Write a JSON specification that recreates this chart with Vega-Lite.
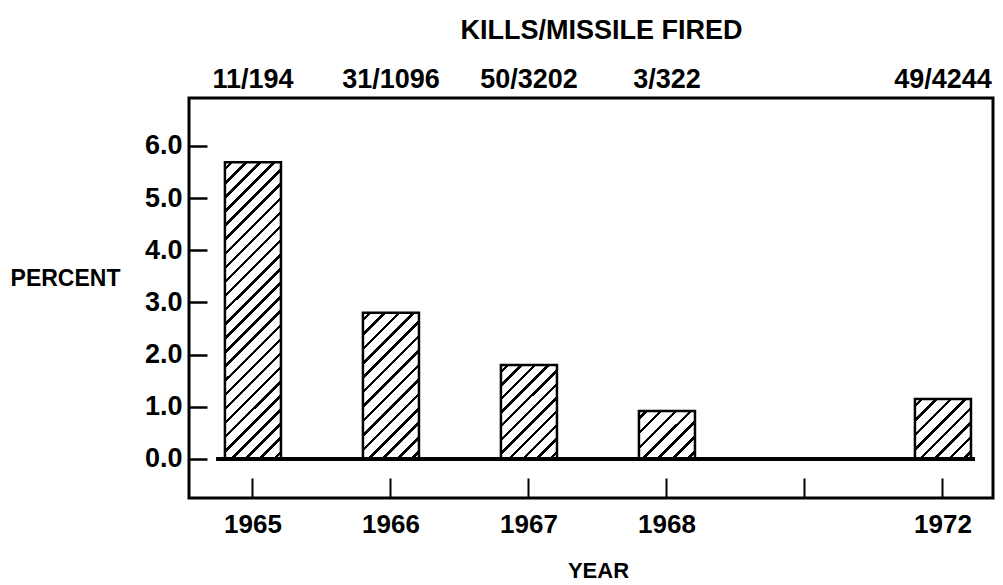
{
  "$schema": "https://vega.github.io/schema/vega-lite/v6.json",
  "width": 804,
  "height": 400,
  "autosize": {"type": "none"},
  "padding": {"left": 189, "top": 98, "right": 10, "bottom": 87},
  "background": "white",
  "data": {"values": [
    {"year": "1965", "kills": "11/194", "percent": 5.69},
    {"year": "1966", "kills": "31/1096", "percent": 2.80},
    {"year": "1967", "kills": "50/3202", "percent": 1.80},
    {"year": "1968", "kills": "3/322", "percent": 0.92},
    {"year": "1972", "kills": "49/4244", "percent": 1.15}
  ]},
  "layer": [
    {
      "layer": [
        {
          "mark": {"type": "bar", "stroke": "black", "strokeWidth": 2.5},
          "encoding": {
            "x": {
              "field": "year", "type": "nominal",
              "scale": {"type": "band", "domain": ["1965", "1966", "1967", "1968", " ", "1972"], "paddingInner": 0.594, "paddingOuter": 0.21, "align": 0.62},
              "axis": {"orient": "bottom", "domain": false, "grid": false, "tickSize": -20, "tickWidth": 2, "tickColor": "black", "labelAngle": 0, "labelBaseline": "alphabetic", "labelPadding": 54, "labelFontSize": 26, "title": "YEAR", "titleFontSize": 22, "titleX": 409, "titleY": 72, "titleBaseline": "middle", "titleAlign": "center"}
            },
            "y": {
              "field": "percent", "type": "quantitative",
              "scale": {"domain": [-0.75, 6.92], "nice": false, "zero": false},
              "axis": {"orient": "left", "values": [0, 1, 2, 3, 4, 5, 6], "format": ".1f", "domain": false, "grid": false, "tickSize": -18, "tickWidth": 2.5, "tickColor": "black", "labelPadding": 25, "labelFontSize": 27, "title": "PERCENT", "titleFontSize": 23, "titleAngle": 0, "titleX": -124, "titleY": 180, "titleAlign": "center", "titleBaseline": "middle"}
            },
            "y2": {"datum": 0},
            "fill": {
              "condition": [
                {"test": "datum.year === '1965'", "value": {"gradient": "linear", "x1": 0, "y1": 0, "x2": 0.2164, "y2": 1.1478, "stops": [
                  {"offset": 0.015, "color": "white"}, {"offset": 0.015, "color": "black"}, {"offset": 0.025, "color": "black"}, {"offset": 0.025, "color": "white"},
                  {"offset": 0.055, "color": "white"}, {"offset": 0.055, "color": "black"}, {"offset": 0.065, "color": "black"}, {"offset": 0.065, "color": "white"},
                  {"offset": 0.095, "color": "white"}, {"offset": 0.095, "color": "black"}, {"offset": 0.105, "color": "black"}, {"offset": 0.105, "color": "white"},
                  {"offset": 0.135, "color": "white"}, {"offset": 0.135, "color": "black"}, {"offset": 0.145, "color": "black"}, {"offset": 0.145, "color": "white"},
                  {"offset": 0.175, "color": "white"}, {"offset": 0.175, "color": "black"}, {"offset": 0.185, "color": "black"}, {"offset": 0.185, "color": "white"},
                  {"offset": 0.215, "color": "white"}, {"offset": 0.215, "color": "black"}, {"offset": 0.225, "color": "black"}, {"offset": 0.225, "color": "white"},
                  {"offset": 0.255, "color": "white"}, {"offset": 0.255, "color": "black"}, {"offset": 0.265, "color": "black"}, {"offset": 0.265, "color": "white"},
                  {"offset": 0.295, "color": "white"}, {"offset": 0.295, "color": "black"}, {"offset": 0.305, "color": "black"}, {"offset": 0.305, "color": "white"},
                  {"offset": 0.335, "color": "white"}, {"offset": 0.335, "color": "black"}, {"offset": 0.345, "color": "black"}, {"offset": 0.345, "color": "white"},
                  {"offset": 0.375, "color": "white"}, {"offset": 0.375, "color": "black"}, {"offset": 0.385, "color": "black"}, {"offset": 0.385, "color": "white"},
                  {"offset": 0.415, "color": "white"}, {"offset": 0.415, "color": "black"}, {"offset": 0.425, "color": "black"}, {"offset": 0.425, "color": "white"},
                  {"offset": 0.455, "color": "white"}, {"offset": 0.455, "color": "black"}, {"offset": 0.465, "color": "black"}, {"offset": 0.465, "color": "white"},
                  {"offset": 0.495, "color": "white"}, {"offset": 0.495, "color": "black"}, {"offset": 0.505, "color": "black"}, {"offset": 0.505, "color": "white"},
                  {"offset": 0.535, "color": "white"}, {"offset": 0.535, "color": "black"}, {"offset": 0.545, "color": "black"}, {"offset": 0.545, "color": "white"},
                  {"offset": 0.575, "color": "white"}, {"offset": 0.575, "color": "black"}, {"offset": 0.585, "color": "black"}, {"offset": 0.585, "color": "white"},
                  {"offset": 0.615, "color": "white"}, {"offset": 0.615, "color": "black"}, {"offset": 0.625, "color": "black"}, {"offset": 0.625, "color": "white"},
                  {"offset": 0.655, "color": "white"}, {"offset": 0.655, "color": "black"}, {"offset": 0.665, "color": "black"}, {"offset": 0.665, "color": "white"},
                  {"offset": 0.695, "color": "white"}, {"offset": 0.695, "color": "black"}, {"offset": 0.705, "color": "black"}, {"offset": 0.705, "color": "white"},
                  {"offset": 0.735, "color": "white"}, {"offset": 0.735, "color": "black"}, {"offset": 0.745, "color": "black"}, {"offset": 0.745, "color": "white"},
                  {"offset": 0.775, "color": "white"}, {"offset": 0.775, "color": "black"}, {"offset": 0.785, "color": "black"}, {"offset": 0.785, "color": "white"},
                  {"offset": 0.815, "color": "white"}, {"offset": 0.815, "color": "black"}, {"offset": 0.825, "color": "black"}, {"offset": 0.825, "color": "white"},
                  {"offset": 0.855, "color": "white"}, {"offset": 0.855, "color": "black"}, {"offset": 0.865, "color": "black"}, {"offset": 0.865, "color": "white"},
                  {"offset": 0.895, "color": "white"}, {"offset": 0.895, "color": "black"}, {"offset": 0.905, "color": "black"}, {"offset": 0.905, "color": "white"},
                  {"offset": 0.935, "color": "white"}, {"offset": 0.935, "color": "black"}, {"offset": 0.945, "color": "black"}, {"offset": 0.945, "color": "white"},
                  {"offset": 0.975, "color": "white"}, {"offset": 0.975, "color": "black"}, {"offset": 0.985, "color": "black"}, {"offset": 0.985, "color": "white"}
                ]}},
                {"test": "datum.year === '1966'", "value": {"gradient": "linear", "x1": 0, "y1": 0, "x2": 0.4626, "y2": 1.2061, "stops": [
                  {"offset": 0.0268, "color": "white"}, {"offset": 0.0268, "color": "black"}, {"offset": 0.0446, "color": "black"}, {"offset": 0.0446, "color": "white"},
                  {"offset": 0.0982, "color": "white"}, {"offset": 0.0982, "color": "black"}, {"offset": 0.1161, "color": "black"}, {"offset": 0.1161, "color": "white"},
                  {"offset": 0.1696, "color": "white"}, {"offset": 0.1696, "color": "black"}, {"offset": 0.1875, "color": "black"}, {"offset": 0.1875, "color": "white"},
                  {"offset": 0.2411, "color": "white"}, {"offset": 0.2411, "color": "black"}, {"offset": 0.2589, "color": "black"}, {"offset": 0.2589, "color": "white"},
                  {"offset": 0.3125, "color": "white"}, {"offset": 0.3125, "color": "black"}, {"offset": 0.3304, "color": "black"}, {"offset": 0.3304, "color": "white"},
                  {"offset": 0.3839, "color": "white"}, {"offset": 0.3839, "color": "black"}, {"offset": 0.4018, "color": "black"}, {"offset": 0.4018, "color": "white"},
                  {"offset": 0.4554, "color": "white"}, {"offset": 0.4554, "color": "black"}, {"offset": 0.4732, "color": "black"}, {"offset": 0.4732, "color": "white"},
                  {"offset": 0.5268, "color": "white"}, {"offset": 0.5268, "color": "black"}, {"offset": 0.5446, "color": "black"}, {"offset": 0.5446, "color": "white"},
                  {"offset": 0.5982, "color": "white"}, {"offset": 0.5982, "color": "black"}, {"offset": 0.6161, "color": "black"}, {"offset": 0.6161, "color": "white"},
                  {"offset": 0.6696, "color": "white"}, {"offset": 0.6696, "color": "black"}, {"offset": 0.6875, "color": "black"}, {"offset": 0.6875, "color": "white"},
                  {"offset": 0.7411, "color": "white"}, {"offset": 0.7411, "color": "black"}, {"offset": 0.7589, "color": "black"}, {"offset": 0.7589, "color": "white"},
                  {"offset": 0.8125, "color": "white"}, {"offset": 0.8125, "color": "black"}, {"offset": 0.8304, "color": "black"}, {"offset": 0.8304, "color": "white"},
                  {"offset": 0.8839, "color": "white"}, {"offset": 0.8839, "color": "black"}, {"offset": 0.9018, "color": "black"}, {"offset": 0.9018, "color": "white"},
                  {"offset": 0.9554, "color": "white"}, {"offset": 0.9554, "color": "black"}, {"offset": 0.9732, "color": "black"}, {"offset": 0.9732, "color": "white"}
                ]}},
                {"test": "datum.year === '1967'", "value": {"gradient": "linear", "x1": 0, "y1": 0, "x2": 0.7016, "y2": 1.1777, "stops": [
                  {"offset": 0.0341, "color": "white"}, {"offset": 0.0341, "color": "black"}, {"offset": 0.0568, "color": "black"}, {"offset": 0.0568, "color": "white"},
                  {"offset": 0.125, "color": "white"}, {"offset": 0.125, "color": "black"}, {"offset": 0.1477, "color": "black"}, {"offset": 0.1477, "color": "white"},
                  {"offset": 0.2159, "color": "white"}, {"offset": 0.2159, "color": "black"}, {"offset": 0.2386, "color": "black"}, {"offset": 0.2386, "color": "white"},
                  {"offset": 0.3068, "color": "white"}, {"offset": 0.3068, "color": "black"}, {"offset": 0.3295, "color": "black"}, {"offset": 0.3295, "color": "white"},
                  {"offset": 0.3977, "color": "white"}, {"offset": 0.3977, "color": "black"}, {"offset": 0.4205, "color": "black"}, {"offset": 0.4205, "color": "white"},
                  {"offset": 0.4886, "color": "white"}, {"offset": 0.4886, "color": "black"}, {"offset": 0.5114, "color": "black"}, {"offset": 0.5114, "color": "white"},
                  {"offset": 0.5795, "color": "white"}, {"offset": 0.5795, "color": "black"}, {"offset": 0.6023, "color": "black"}, {"offset": 0.6023, "color": "white"},
                  {"offset": 0.6705, "color": "white"}, {"offset": 0.6705, "color": "black"}, {"offset": 0.6932, "color": "black"}, {"offset": 0.6932, "color": "white"},
                  {"offset": 0.7614, "color": "white"}, {"offset": 0.7614, "color": "black"}, {"offset": 0.7841, "color": "black"}, {"offset": 0.7841, "color": "white"},
                  {"offset": 0.8523, "color": "white"}, {"offset": 0.8523, "color": "black"}, {"offset": 0.875, "color": "black"}, {"offset": 0.875, "color": "white"},
                  {"offset": 0.9432, "color": "white"}, {"offset": 0.9432, "color": "black"}, {"offset": 0.9659, "color": "black"}, {"offset": 0.9659, "color": "white"}
                ]}},
                {"test": "datum.year === '1968'", "value": {"gradient": "linear", "x1": 0, "y1": 0, "x2": 1.0706, "y2": 0.9176, "stops": [
                  {"offset": 0.0536, "color": "white"}, {"offset": 0.0536, "color": "black"}, {"offset": 0.0893, "color": "black"}, {"offset": 0.0893, "color": "white"},
                  {"offset": 0.1964, "color": "white"}, {"offset": 0.1964, "color": "black"}, {"offset": 0.2321, "color": "black"}, {"offset": 0.2321, "color": "white"},
                  {"offset": 0.3393, "color": "white"}, {"offset": 0.3393, "color": "black"}, {"offset": 0.375, "color": "black"}, {"offset": 0.375, "color": "white"},
                  {"offset": 0.4821, "color": "white"}, {"offset": 0.4821, "color": "black"}, {"offset": 0.5179, "color": "black"}, {"offset": 0.5179, "color": "white"},
                  {"offset": 0.625, "color": "white"}, {"offset": 0.625, "color": "black"}, {"offset": 0.6607, "color": "black"}, {"offset": 0.6607, "color": "white"},
                  {"offset": 0.7679, "color": "white"}, {"offset": 0.7679, "color": "black"}, {"offset": 0.8036, "color": "black"}, {"offset": 0.8036, "color": "white"},
                  {"offset": 0.9107, "color": "white"}, {"offset": 0.9107, "color": "black"}, {"offset": 0.9464, "color": "black"}, {"offset": 0.9464, "color": "white"}
                ]}},
                {"test": "datum.year === '1972'", "value": {"gradient": "linear", "x1": 0, "y1": 0, "x2": 0.9644, "y2": 1.0333, "stops": [
                  {"offset": 0.046875, "color": "white"}, {"offset": 0.046875, "color": "black"}, {"offset": 0.078125, "color": "black"}, {"offset": 0.078125, "color": "white"},
                  {"offset": 0.171875, "color": "white"}, {"offset": 0.171875, "color": "black"}, {"offset": 0.203125, "color": "black"}, {"offset": 0.203125, "color": "white"},
                  {"offset": 0.296875, "color": "white"}, {"offset": 0.296875, "color": "black"}, {"offset": 0.328125, "color": "black"}, {"offset": 0.328125, "color": "white"},
                  {"offset": 0.421875, "color": "white"}, {"offset": 0.421875, "color": "black"}, {"offset": 0.453125, "color": "black"}, {"offset": 0.453125, "color": "white"},
                  {"offset": 0.546875, "color": "white"}, {"offset": 0.546875, "color": "black"}, {"offset": 0.578125, "color": "black"}, {"offset": 0.578125, "color": "white"},
                  {"offset": 0.671875, "color": "white"}, {"offset": 0.671875, "color": "black"}, {"offset": 0.703125, "color": "black"}, {"offset": 0.703125, "color": "white"},
                  {"offset": 0.796875, "color": "white"}, {"offset": 0.796875, "color": "black"}, {"offset": 0.828125, "color": "black"}, {"offset": 0.828125, "color": "white"},
                  {"offset": 0.921875, "color": "white"}, {"offset": 0.921875, "color": "black"}, {"offset": 0.953125, "color": "black"}, {"offset": 0.953125, "color": "white"}
                ]}}
              ],
              "value": "white"
            }
          }
        },
        {
          "mark": {"type": "rule", "color": "black", "strokeWidth": 3.5},
          "encoding": {
            "x": {"datum": "1965", "bandPosition": -0.15},
            "x2": {"datum": "1972", "bandPosition": 1.07},
            "y": {"datum": 0}
          }
        }
      ]
    },
    {
      "mark": {"type": "point", "opacity": 0},
      "encoding": {
        "x": {
          "field": "kills", "type": "nominal", "sort": null,
          "scale": {"type": "band", "domain": ["11/194", "31/1096", "50/3202", "3/322", " ", "49/4244"], "paddingInner": 0.594, "paddingOuter": 0.21, "align": 0.62},
          "axis": {"orient": "top", "domain": false, "ticks": false, "grid": false, "labelAngle": 0, "labelBaseline": "alphabetic", "labelPadding": 11, "labelDx": 3, "labelFontSize": 27, "title": "KILLS/MISSILE FIRED", "titleFontSize": 27, "titleX": 412, "titleY": -60, "titleBaseline": "alphabetic", "titleAlign": "center"}
        }
      }
    }
  ],
  "resolve": {"scale": {"x": "independent"}},
  "config": {
    "font": "Liberation Sans",
    "view": {"stroke": "black", "strokeWidth": 3},
    "axis": {"labelColor": "black", "titleColor": "black", "labelFontWeight": "bold", "titleFontWeight": "bold", "labelFont": "Liberation Sans", "titleFont": "Liberation Sans", "labelOverlap": false, "labelFlush": false}
  }
}
